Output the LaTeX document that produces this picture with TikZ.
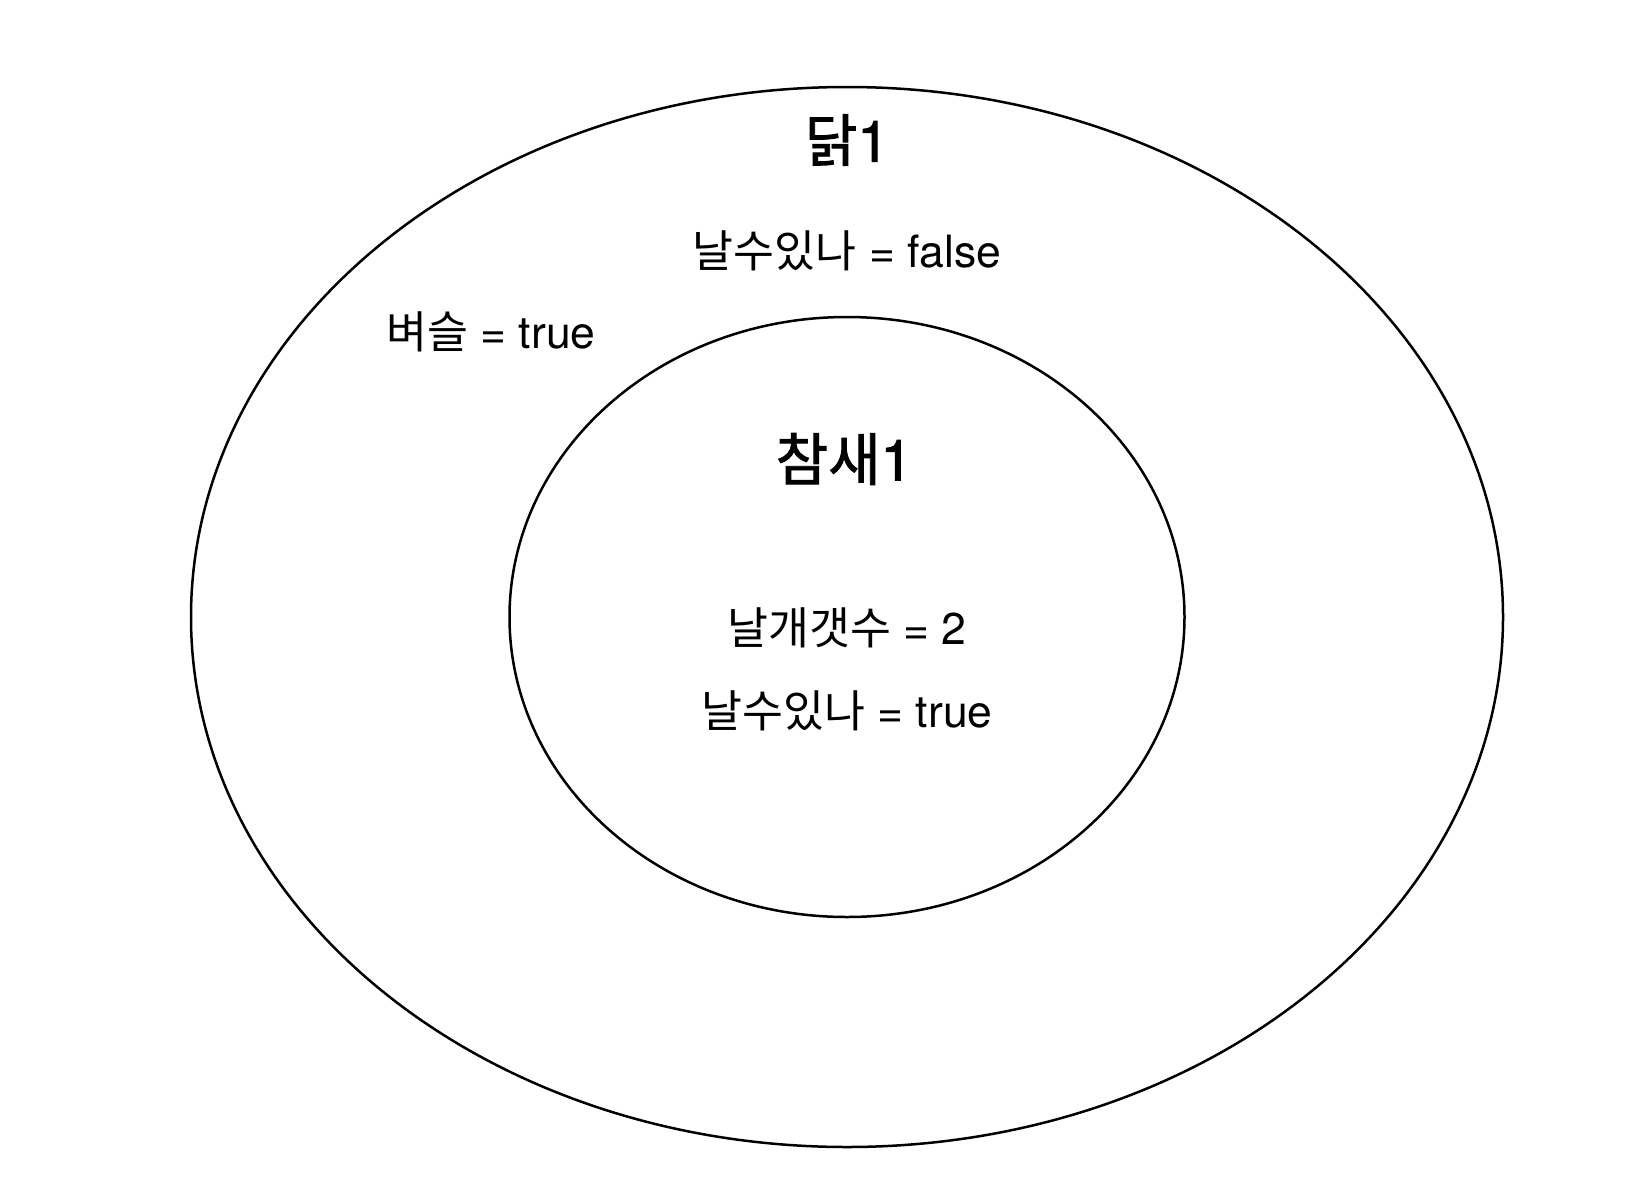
\documentclass[tikz,border=0pt]{standalone}
\usepackage{fontspec}
\usetikzlibrary{shapes.geometric}
\newfontfamily\kr{Noto Sans CJK KR}
\newfontfamily\krb[FakeBold=1.6]{Noto Sans CJK KR}
\newfontfamily\hv{TeX Gyre Heros}
\newfontfamily\hvb[FakeBold=1.6]{TeX Gyre Heros}
\begin{document}
\begin{tikzpicture}[x=1pt,y=-1pt,
  ring/.style={draw=black,line width=2.5pt},
  title/.style={font=\hvb\fontsize{57}{62}\selectfont, inner sep=0pt},
  lbl/.style={font=\hv\fontsize{44.5}{50}\selectfont, inner sep=0pt}]
\useasboundingbox[fill=white] (0,0) rectangle (1628,1194);
\node[ring, ellipse, minimum width=1312, minimum height=1060, inner sep=0pt] (outer) at (847,617) {};
\node[ring, ellipse, minimum width=675, minimum height=600, inner sep=0pt] (inner) at (847,617) {};
\node[title] (t1) at (847,140) {{\krb 닭}1};
\node[lbl] (a1) at (847,251) {{\kr 날수있나} = false};
\node[lbl] (a2) at (491,332) {{\kr 벼슬} = true};
\node[title] (t2) at (844,459) {{\krb 참새}1};
\node[lbl] (b1) at (847,628) {{\kr 날개갯수} = 2};
\node[lbl] (b2) at (847,711) {{\kr 날수있나} = true};
\end{tikzpicture}
\end{document}
